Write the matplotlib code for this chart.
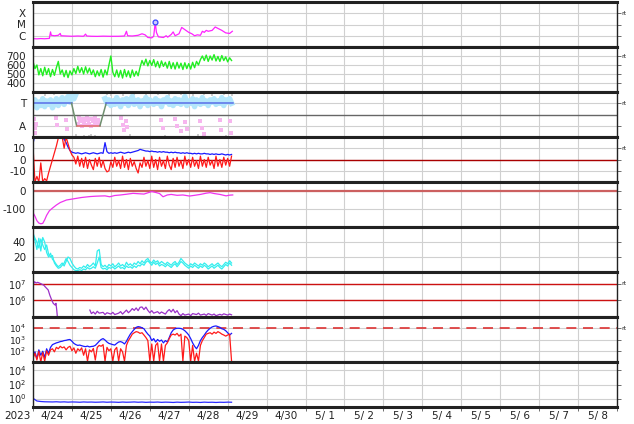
import numpy as np
import matplotlib
matplotlib.use("Agg")
import matplotlib.pyplot as plt
from matplotlib.ticker import NullLocator, FixedLocator

# ===================================================
# Data (x = days since 2023-04-24 00:00)
# ===================================================

day_labels = ["4/24", "4/25", "4/26", "4/27", "4/28", "4/29", "4/30",
              "5/ 1", "5/ 2", "5/ 3", "5/ 4", "5/ 5", "5/ 6", "5/ 7", "5/ 8"]

# X-ray flux
xray_t = [0.00, 0.10, 0.20, 0.30, 0.42, 0.45, 0.47, 0.55, 0.65, 0.70, 0.72, 0.85,
          1.00, 1.15, 1.30, 1.35, 1.38, 1.50, 1.65, 1.80, 2.00, 2.20, 2.35, 2.40,
          2.43, 2.55, 2.70, 2.80, 2.88, 2.95, 3.05, 3.10, 3.14, 3.17, 3.22, 3.35,
          3.42, 3.46, 3.55, 3.60, 3.65, 3.75, 3.82, 3.90, 4.00, 4.08, 4.15, 4.22,
          4.30, 4.35, 4.40, 4.45, 4.50, 4.60, 4.68, 4.75, 4.85, 4.95, 5.05, 5.12]
xray_v = [5.5e-7, 5.3e-7, 5.6e-7, 5.4e-7, 5.8e-7, 2.2e-6, 1.1e-6, 1.0e-6, 1.1e-6, 1.6e-6, 1.0e-6, 9.5e-7,
          9.0e-7, 9.5e-7, 9.0e-7, 1.4e-6, 9.5e-7, 9.0e-7, 8.8e-7, 9.2e-7, 8.9e-7, 9.0e-7, 9.5e-7, 2.5e-6,
          1.0e-6, 9.5e-7, 1.1e-6, 1.5e-6, 1.2e-6, 7.0e-7, 6.5e-7, 9.0e-7, 1.6e-5, 2.0e-6, 8.0e-7, 7.0e-7,
          1.0e-6, 7.5e-7, 1.3e-6, 2.2e-6, 1.0e-6, 1.5e-6, 5.5e-6, 3.5e-6, 2.0e-6, 1.5e-6, 1.0e-6, 1.2e-6,
          1.1e-6, 2.5e-6, 2.0e-6, 3.0e-6, 2.5e-6, 3.0e-6, 6.0e-6, 4.5e-6, 3.0e-6, 1.8e-6, 1.6e-6, 2.5e-6]
flare_t = [3.14]
flare_v = [1.75e-5]

# solar wind speed, every 0.05 day
speed = [640, 560, 600, 490, 560, 480, 575, 495, 560, 470, 550, 485, 570,
         640, 500, 545, 470, 540, 460, 535, 490,
         560, 505, 585, 515, 570, 500, 580, 510, 565, 495,
         545, 470, 535, 480, 550, 465, 545, 490, 600,
         700, 520,
         470, 545, 465, 540, 455, 550, 470, 535, 460, 545, 475, 530, 480, 575,
         650, 600, 665, 590, 650, 595, 660, 580, 640, 570, 645, 585, 630, 565, 640,
         560, 625, 555, 630, 565, 620, 550, 625, 560, 615, 555, 630, 570, 640, 600,
         660, 700, 650, 710, 640, 700, 655, 715, 645, 695, 640, 705, 650, 690, 635, 680, 650]

# sector (T / A), every 0.05 day
sector_band = [0.9, 1.3, 0.6, 1.1, 0.8, 1.4, 0.7, 1.2, 0.9, 1.3, 0.6, 1.0, 1.4, 0.8, 1.2, 1.5,
               0.9, 1.3, 1.6, 1.1, 1.7, 1.4, 1.8,
               np.nan, np.nan, np.nan, np.nan, np.nan, np.nan, np.nan, np.nan, np.nan, np.nan,
               np.nan, np.nan, np.nan, np.nan,
               1.4, 1.0, 1.3, 0.8, 1.2, 0.9, 1.5, 1.1, 0.7, 1.3, 1.0, 1.4, 0.8, 1.2, 1.6, 0.9,
               1.1, 1.3, 0.7, 1.2, 1.0, 1.5, 0.8, 1.3, 1.1, 0.9, 1.4, 1.0, 1.2, 0.7, 1.3, 1.1,
               1.5, 0.9, 1.2, 0.8, 1.4, 1.0, 1.3, 0.9, 1.1, 1.6, 0.8, 1.2, 1.0, 1.4, 0.7, 1.3,
               1.1, 0.9, 1.5, 1.0, 1.2, 0.8, 1.3, 1.1, 1.4, 0.9, 1.2, 1.0, 1.5, 0.8, 1.3, 1.1,
               1.4, 1.0]
pink_t = [0.02, 0.04, 0.05, 0.08, 0.60, 0.62, 0.86, 0.88,
          1.15, 1.20, 1.25, 1.30, 1.35, 1.40, 1.45, 1.50, 1.55, 1.60, 1.65, 1.70,
          1.18, 1.28, 1.38, 1.48, 1.58, 1.68,
          2.25, 2.30, 2.35, 2.40, 2.42, 3.30, 3.35,
          3.65, 3.70, 3.80, 3.90, 3.95, 4.30, 4.35, 4.40, 4.80, 4.82, 5.05, 5.08]
pink_v = [-0.4, -1.2, -1.6, -0.8, -0.3, -0.9, -0.5, -1.3,
          -0.8, -0.6, -1.0, -0.7, -0.9, -0.5, -0.8, -1.0, -0.6, -0.9, -0.7, -0.8,
          -0.3, -0.4, -0.3, -0.4, -0.3, -0.5,
          -0.3, -0.9, -1.4, -0.6, -1.1, -0.5, -1.2,
          -0.4, -1.0, -1.5, -0.7, -1.3, -0.6, -1.2, -1.7, -0.5, -1.4, -0.6, -1.6]
grey_t = [0.30, 0.55, 0.70, 0.75, 0.90, 0.95, 1.30, 1.50, 1.60, 1.90, 2.00, 2.30, 2.60, 2.90,
          3.20, 3.50, 3.80, 4.10, 4.40, 4.60, 4.90, 5.10, 1.10, 1.45, 2.50, 3.40, 4.25, 4.95]
grey_v = [1.7, 1.8, 1.9, 1.6, 1.85, 1.7, -1.9, -1.8, -1.9, 1.8, 1.7, 1.75, 1.8, 1.7,
          1.85, 1.75, 1.8, 1.7, 1.8, 1.75, 1.85, 1.7, -1.8, -1.9, -1.85, -1.9, -1.8, -1.9]
sector_t = [0.0, 0.99, 1.12, 1.72, 1.88, 5.13]
sector_v = [1, 1, -1, -1, 1, 1]
sector_c = ["#5a6ee8", "#6f8f6f", "#e06a6a", "#6f8f6f", "#5a6ee8"]

# IMF Bt / Bz, every 0.05 day
bt = [14, 22, 25, 25, 25, 25, 25, 25, 25, 25, 25, 25, 23, 21, 20, 19, 18, 15, 11, 8,
      6.5, 6, 5.5, 6, 5.5, 5, 5.5, 6, 5.5, 5, 5.5, 6, 5.5, 5, 5.5, 6, 5.5, 15, 7, 5.5,
      6, 5.5, 6, 5.5, 6, 6.5, 6, 5.5, 6, 6.5, 6, 6.5, 7, 7.5, 8, 9, 8.5, 8, 7.5, 7.5,
      7, 7.5, 7, 7, 6.5, 7, 6.5, 7, 6.5, 6.5, 6, 6.5, 6, 6.5, 6, 6, 5.5, 6, 5.5, 6,
      5.5, 5.5, 5, 5.5, 5, 5.5, 5, 5, 5.5, 5, 5, 4.5, 5, 4.5, 5, 4.5, 4.5, 5, 4.5, 4,
      4.5, 4, 4.5]
bz = [12, -20, -15, -20, -3, -20, -17, -19, -12, -6, 0, 6, 12, 19, 20, 20, 10, 20, 14, 8,
      4, 2, -4, 3, -6, 1, -7, 2, -8, 0,
      -5, -9, 1, -6, 2, -7, -1, -8, -11, -10,
      -2, -7, 2, -6, -1, -8, 3, -7, 0, -9,
      1, -6, -2, -8, -12, -3, -7, 2, -6, -1,
      -8, 3, -7, 0, -9, 2, -6, -1, -8, 3,
      -5, -9, 1, -7, 2, -6, -1, -8, 3, -5,
      0, -7, 2, -6, -1, -8, 3, -6, 0, -7,
      2, -5, -1, -8, 3, -6, 0, -7, 2, -5,
      1, -6, 3]

# Dst
dst_t = [0.00, 0.05, 0.10, 0.15, 0.20, 0.25, 0.30, 0.35, 0.42, 0.50, 0.60, 0.70, 0.86, 1.00, 1.11,
         1.25, 1.46, 1.60, 1.71, 1.85, 1.97, 2.10, 2.25, 2.40, 2.57, 2.70, 2.85, 3.05, 3.15, 3.25,
         3.34, 3.45, 3.55, 3.70, 3.85, 4.02, 4.15, 4.30, 4.45, 4.55, 4.65, 4.80, 4.96, 5.05, 5.13]
dst_v = [-120, -140, -165, -178, -182, -180, -160, -135, -110, -95, -78, -64, -50, -45, -41,
         -36, -31, -29, -28, -27, -32, -25, -22, -18, -13, -15, -17, -3, -8, -14,
         -32, -22, -19, -24, -22, -28, -24, -19, -12, -9, -14, -19, -27, -23, -22]

# density (two sources), every 0.05 day
dens_a = [48, 42, 30, 45, 28, 46, 40, 26, 20, 25, 17, 14, 10, 7, 9, 12, 8, 14, 20, 18,
          12, 8, 5, 4, 6, 5, 8, 6, 10, 7, 9, 12, 8, 28, 30, 10, 7, 9, 6, 10,
          8, 11, 7, 9, 12, 8, 10, 7, 13, 9, 11, 8, 12, 10, 14, 11, 15, 12, 16, 18,
          14, 12, 16, 13, 15, 11, 14, 12, 10, 13, 11, 9, 12, 14, 10, 13, 18, 15, 12, 10,
          8, 11, 9, 12, 10, 8, 11, 9, 12, 10, 7, 9, 11, 8, 10, 12, 9, 7, 10, 13,
          11, 15, 12]
dens_b = [52, 45, 40, 32, 44, 36, 30, 36, 24, 20, 22, 12, 8, 5, 6, 9, 12, 18, 14, 9,
          6, 3, 2, 2, 3, 2, 4, 3, 6, 4, 5, 7, 5, 12, 20, 6, 4, 5, 3, 6,
          5, 7, 4, 6, 8, 5, 6, 4, 8, 6, 7, 5, 8, 6, 9, 8, 11, 9, 13, 15,
          12, 9, 13, 10, 12, 8, 10, 9, 7, 10, 8, 6, 9, 11, 7, 10, 14, 12, 9, 7,
          5, 8, 6, 9, 7, 5, 8, 6, 9, 7, 4, 6, 8, 5, 7, 9, 6, 4, 7, 10,
          8, 12, 9]

# high-energy electrons
elec_t = [0.00, 0.04, 0.08, 0.12, 0.20, 0.28, 0.31, 0.39, 0.43, 0.48, 0.52, 0.57, 0.59, 0.61, 0.63,
          0.64,
          1.46, 1.50, 1.55, 1.60, 1.65, 1.70, 1.80, 1.85, 1.90, 2.00, 2.05, 2.10, 2.20, 2.25,
          2.30, 2.40, 2.45, 2.50, 2.55, 2.60, 2.65, 2.70, 2.75, 2.80, 2.85, 2.90, 2.95, 3.00,
          3.05, 3.10, 3.20, 3.25, 3.30, 3.40, 3.45, 3.50, 3.55, 3.60, 3.65, 3.70, 3.75, 3.80,
          3.85, 3.90, 4.00, 4.05, 4.10, 4.20, 4.25, 4.30, 4.40, 4.45, 4.50, 4.60, 4.65, 4.70,
          4.80, 4.85, 4.90, 5.00, 5.05, 5.10]
elec_v = [8.3e6, 1.3e7, 1.1e7, 1.2e7, 1.0e7, 8.0e6, 6.6e6, 4.2e6, 2.1e6, 1.05e6, 6.6e5, 5.2e5, 6.6e5, 2.6e5, 8e4,
          np.nan,
          2.6e5, 1.6e5, 2.0e5, 1.5e5, 2.2e5, 1.7e5, 1.9e5, 1.4e5, 1.8e5, 1.5e5, 1.9e5, 1.4e5, 1.7e5, 2.1e5,
          1.5e5, 2.6e5, 1.8e5, 2.3e5, 3.2e5, 2.5e5, 3.5e5, 2.4e5, 3.8e5, 4.0e5, 2.8e5, 3.9e5, 2.5e5, 1.8e5,
          2.4e5, 1.7e5, 2.1e5, 1.6e5, 2.0e5, 1.5e5, 2.2e5, 2.8e5, 2.0e5, 2.9e5, 1.8e5, 2.4e5, 1.5e5, 1.2e5,
          1.6e5, 1.3e5, 1.5e5, 1.2e5, 1.6e5, 1.4e5, 1.7e5, 1.3e5, 1.5e5, 1.25e5, 1.6e5, 1.3e5, 1.5e5, 1.2e5,
          1.45e5, 1.3e5, 1.55e5, 1.3e5, 1.5e5, 1.35e5]

# protons, every 0.05 day
prot_hi = [30, 80, 20, 120, 40, 90, 25, 150, 60, 200, 350, 420, 500, 560, 650, 700,
           800, 850, 950, 1000, 700, 450, 350, 300, 320, 280, 250, 230, 260, 220, 240, 250,
           300, 450, 700, 1000, 1200, 900, 600, 450, 400, 350, 320, 450, 600, 650, 550, 400,
           700, 1500, 3000, 5000, 8000, 12000, 14000, 13000, 11000, 9000, 5000, 3000, 2000, 800,
           1200, 600, 1000, 700, 900, 500, 800, 600, 1500, 4000, 7000, 9000, 10000, 10000, 9500, 8000,
           6000, 4000, 2500, 1200, 500, 250, 150, 300, 800, 1500, 2500, 4500, 7000, 10000, 13000, 15000,
           16000, 14000, 12000, 9000, 8000, 6000, 4000, 2500, 3500]
prot_lo = [20, 60, 15, 90, 10, 70, 12, 100, 40, 120, 150, 80, 200, 150, 250, 180,
           220, 120, 200, 250, 100, 180, 60, 150, 100, 180, 40, 150, 12, 120, 80, 160,
           15, 200, 300, 250, 350, 12, 200, 100, 150, 12, 120, 200, 12, 150, 80, 12,
           300, 800, 1500, 3000, 4000, 5000, 4500, 3500, 4000, 2500, 1500, 800, 12, 400,
           12, 300, 500, 12, 400, 12, 300, 500, 1200, 2500, 3000, 2500, 3500, 2000, 3000, 12,
           2000, 1500, 800, 12, 300, 12, 60, 12, 300, 800, 1500, 3000, 3500, 4000, 3000, 4500,
           3500, 5000, 4000, 3000, 2500, 2000, 2500, 3000, 12]

# bottom panel, every 0.1 day
low_flux = [1.1, 0.45, 0.38, 0.35, 0.34, 0.33, 0.35, 0.32, 0.34, 0.31, 0.33, 0.32, 0.30,
            0.33, 0.31, 0.32, 0.30, 0.31, 0.33, 0.30, 0.32, 0.31, 0.29, 0.32, 0.30, 0.31,
            0.33, 0.30, 0.32, 0.29, 0.31, 0.30, 0.32, 0.29, 0.31, 0.30, 0.28, 0.31, 0.29,
            0.30, 0.32, 0.29, 0.30, 0.28, 0.31, 0.29, 0.30, 0.28, 0.30, 0.29, 0.31, 0.30]

# ===================================================
# Figure
# ===================================================

INK = "#222222"
GRID = "#d0d0d0"

fig, axes = plt.subplots(9, 1, sharex=True, figsize=(6.34, 4.24), dpi=100,
                         gridspec_kw=dict(hspace=0))
fig.subplots_adjust(left=33 / 634, right=617 / 634, top=1 - 2 / 424, bottom=1 - 407 / 424)


def style(ax, ylim, ticks, labels=None, log=False, rt=None, size=7.5):
    if log:
        ax.set_yscale("log")
    ax.set_ylim(*ylim)
    ax.yaxis.set_major_locator(FixedLocator(ticks))
    ax.yaxis.set_minor_locator(NullLocator())
    if labels is not None:
        ax.set_yticklabels(labels)
    ax.set_xlim(0, 15)
    ax.set_xticks(range(16))
    ax.grid(True, color=GRID, lw=0.8)
    ax.set_axisbelow(True)
    for s in ["top", "bottom"]:
        ax.spines[s].set_linewidth(2.2)
        ax.spines[s].set_color(INK)
    for s in ["left", "right"]:
        ax.spines[s].set_linewidth(1.0)
        ax.spines[s].set_color(INK)
    ax.tick_params(axis="y", which="both", left=False, right=True, direction="out",
                   length=3, width=0.6, color="#555555", labelsize=size,
                   labelcolor=INK, pad=2)
    ax.tick_params(axis="x", which="major", bottom=False, top=False, labelbottom=False)
    if rt is not None:
        ax.text(1.008, rt, "rt", transform=ax.get_yaxis_transform(), fontsize=4.5,
                color=INK, ha="left", va="center")


# X-ray
ax = axes[0]
ax.plot(xray_t, xray_v, color="#ff22ff", lw=0.9)
ax.plot(flare_t, flare_v, "o", ms=3.5, mfc="#ccccff", mec="#3344ff", mew=0.9)
style(ax, (1e-7, 1e-3), [1e-6, 1e-5, 1e-4], ["C", "M", "X"], log=True, rt=1e-4)

# solar wind speed
ax = axes[1]
ax.plot(np.arange(len(speed)) * 0.05, speed, color="#22ee22", lw=1.0)
style(ax, (300, 800), [400, 500, 600, 700], rt=700)

# sector
ax = axes[2]
ax.plot(np.arange(len(sector_band)) * 0.05, sector_band, color="#b3e6fb", lw=4.0)
ax.scatter(grey_t, grey_v, s=4, marker="s", color="#cccccc", lw=0)
ax.scatter(pink_t, pink_v, s=5, marker="s", color="#f6b6ee", lw=0)
ax.axhline(0, color="#666666", lw=1.0)
for i in range(len(sector_c)):
    ax.plot(sector_t[i:i + 2], sector_v[i:i + 2], color=sector_c[i], lw=1.1)
style(ax, (-2, 2), [-1, 1], ["A", "T"], rt=1)

# Bt / Bz
ax = axes[3]
ax.axhline(0, color="#aa0000", lw=1.0)
ax.plot(np.arange(len(bt)) * 0.05, bt, color="#1a1aff", lw=0.9)
ax.plot(np.arange(len(bz)) * 0.05, bz, color="#ff1a1a", lw=0.9)
style(ax, (-20, 20), [-10, 0, 10], ["-10", "0", "10"], rt=10)

# Dst
ax = axes[4]
ax.axhline(0, color="#cc6060", lw=1.6)
ax.plot(dst_t, dst_v, color="#ee33ee", lw=0.9)
style(ax, (-200, 50), [-100, 0], ["-100", "0"])

# density
ax = axes[5]
ax.plot(np.arange(len(dens_b)) * 0.05, dens_b, color="#33eeee", lw=0.9)
ax.plot(np.arange(len(dens_a)) * 0.05, dens_a, color="#33eeee", lw=0.9)
style(ax, (0, 60), [20, 40])

# electrons
ax = axes[6]
ax.axhline(1e7, color="#cc1111", lw=1.0)
ax.axhline(1e6, color="#cc1111", lw=1.0)
ax.plot(elec_t, elec_v, color="#9a30c8", lw=0.9)
style(ax, (1e5, 10 ** 7.7), [1e6, 1e7], log=True, rt=1e7, size=7)

# protons
ax = axes[7]
ax.axhline(1e4, color="#dd3333", lw=1.2, dashes=(6, 4))
ax.plot(np.arange(len(prot_hi)) * 0.05, prot_hi, color="#1a1aff", lw=0.9)
ax.plot(np.arange(len(prot_lo)) * 0.05, prot_lo, color="#ff1a1a", lw=0.9)
style(ax, (1e1, 1e5), [1e2, 1e3, 1e4], log=True, rt=1e4, size=6.5)

# bottom
ax = axes[8]
ax.plot(np.arange(len(low_flux)) * 0.1, low_flux, color="#2a2aff", lw=0.9)
style(ax, (10 ** -1.2, 10 ** 5.2), [1e0, 1e2, 1e4], log=True, size=7)

# x axis
ax.tick_params(axis="x", which="major", bottom=True, direction="out", length=3,
               width=0.6, color="#555555")
ax.set_xticks(np.arange(15) + 0.5, minor=True)
ax.set_xticklabels(day_labels, minor=True)
ax.tick_params(axis="x", which="minor", bottom=True, length=0, labelsize=7.5,
               labelcolor=INK, pad=3, labelbottom=True)

fig.text(17 / 634, 1 - 416 / 424, "2023", fontsize=7.5, color=INK, ha="center", va="center")

fig.savefig("out.png", dpi=100)
